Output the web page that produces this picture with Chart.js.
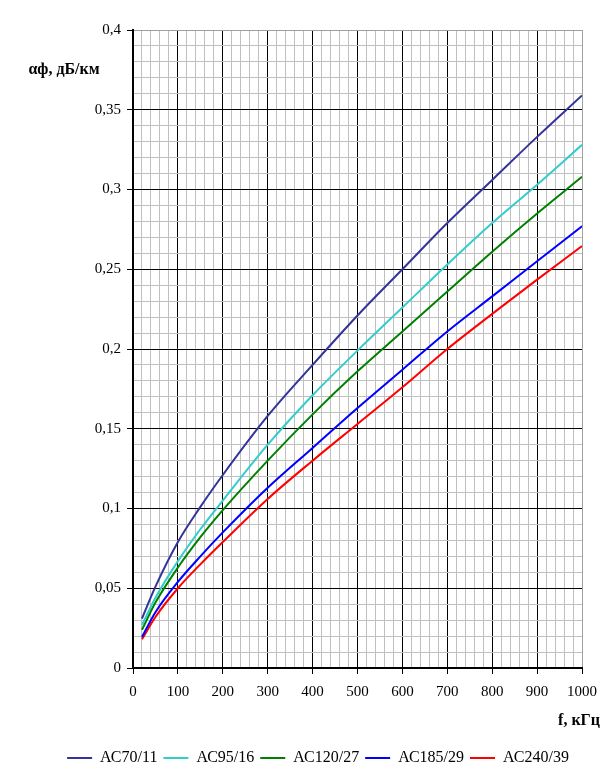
<!DOCTYPE html>
<html>
<head>
<meta charset="utf-8">
<script src="https://cdn.jsdelivr.net/npm/chart.js@4/dist/chart.umd.min.js"></script>
<style>
  body { margin: 0; background: #fff; }
  canvas { display: block; }
</style>
</head>
<body>
<canvas id="attChart" width="616" height="780"></canvas>
<script>
// frequency, kHz
const freqs = [20, 50, 100, 150, 200, 300, 400, 500, 600, 700, 800, 900, 1000];

// attenuation, dB/km
const ac70 = [0.031, 0.051, 0.079, 0.101, 0.121, 0.158, 0.190, 0.221, 0.250, 0.279, 0.306, 0.333, 0.359];
const ac95 = [0.027, 0.044, 0.067, 0.087, 0.105, 0.140, 0.171, 0.199, 0.226, 0.253, 0.279, 0.303, 0.328];
const ac120 = [0.024, 0.041, 0.063, 0.082, 0.099, 0.130, 0.159, 0.186, 0.211, 0.236, 0.261, 0.285, 0.308];
const ac185 = [0.0195, 0.035, 0.054, 0.070, 0.085, 0.113, 0.138, 0.163, 0.187, 0.211, 0.233, 0.255, 0.277];
const ac240 = [0.018, 0.032, 0.050, 0.065, 0.079, 0.106, 0.130, 0.153, 0.176, 0.200, 0.222, 0.2435, 0.2645];

const seriesNames = ['АС70/11', 'АС95/16', 'АС120/27', 'АС185/29', 'АС240/39'];
const seriesColors = ['#333399', '#33CCCC', '#008000', '#0000FF', '#FF0000'];

const PLOT_BOTTOM = 668;
const PAD_BOTTOM = 4;

function isMajor(v, step) {
    const r = v / step;
    return Math.abs(r - Math.round(r)) < 1e-6;
}

function gridColor(step, max) {
    return ctx => {
        const v = ctx.tick.value;
        if (Math.abs(v - max) < 1e-9) return '#a0a0a0';
        return isMajor(v, step) ? '#000000' : '#c0c0c0';
    };
}

function tickMarkColor(step) {
    return ctx => isMajor(ctx.tick.value, step) ? '#000000' : 'rgba(0,0,0,0)';
}

const axisTitles = {
    id: 'axisTitles',
    afterDraw(chart) {
        const c = chart.ctx;
        c.save();
        c.fillStyle = '#000';
        c.font = 'bold 16px "Liberation Serif"';
        c.textBaseline = 'middle';
        c.textAlign = 'center';
        c.fillText('αф, дБ/км', 64, 70);
        c.textAlign = 'right';
        c.fillText('f, кГц', 600, 721);
        c.restore();
    }
};

const allSeries = [ac70, ac95, ac120, ac185, ac240];

const datasets = allSeries.map((vals, i) => ({
    label: seriesNames[i],
    data: freqs.map((f, j) => ({ x: f, y: vals[j] })),
    borderColor: seriesColors[i],
    backgroundColor: seriesColors[i],
    borderWidth: 2,
    pointRadius: 0,
    fill: false,
    cubicInterpolationMode: 'monotone'
}));

const tickFont = { family: '"Liberation Serif", "Times New Roman", serif', size: 15 };
const legendFont = { family: '"Liberation Serif", "Times New Roman", serif', size: 16 };

new Chart(document.getElementById('attChart').getContext('2d'), {
    type: 'line',
    data: { datasets },
    options: {
        responsive: false,
        animation: false,
        devicePixelRatio: 1,
        layout: { padding: { left: 54, right: 34, top: 30, bottom: PAD_BOTTOM } },
        plugins: {
            legend: {
                position: 'bottom',
                labels: {
                    usePointStyle: true,
                    pointStyle: 'line',
                    pointStyleWidth: 25,
                    padding: 6,
                    color: '#000',
                    font: legendFont
                }
            },
            tooltip: { enabled: false }
        },
        scales: {
            x: {
                type: 'linear',
                min: 0,
                max: 1000,
                afterFit(scale) {
                    const legendH = scale.chart.legend ? scale.chart.legend.height : 0;
                    scale.height = scale.chart.height - PLOT_BOTTOM - legendH - PAD_BOTTOM;
                },
                ticks: {
                    stepSize: 20,
                    maxTicksLimit: 100,
                    autoSkip: false,
                    maxRotation: 0,
                    padding: 9,
                    color: '#000',
                    font: tickFont,
                    callback: v => isMajor(v, 100) ? String(v) : ''
                },
                grid: {
                    color: gridColor(100, 1000),
                    tickColor: tickMarkColor(100),
                    tickLength: 6,
                    lineWidth: 1
                },
                border: { color: '#000', width: 2 }
            },
            y: {
                min: 0,
                max: 0.4,
                afterFit(scale) { scale.width = 79; },
                ticks: {
                    stepSize: 0.01,
                    maxTicksLimit: 100,
                    autoSkip: false,
                    padding: 6,
                    color: '#000',
                    font: tickFont,
                    callback: v => isMajor(v, 0.05)
                        ? String(Math.round(v * 100) / 100).replace('.', ',')
                        : ''
                },
                grid: {
                    color: gridColor(0.05, 0.4),
                    tickColor: tickMarkColor(0.05),
                    tickLength: 6,
                    lineWidth: 1
                },
                border: { color: '#000', width: 2 }
            }
        }
    },
    plugins: [axisTitles]
});
</script>
</body>
</html>
